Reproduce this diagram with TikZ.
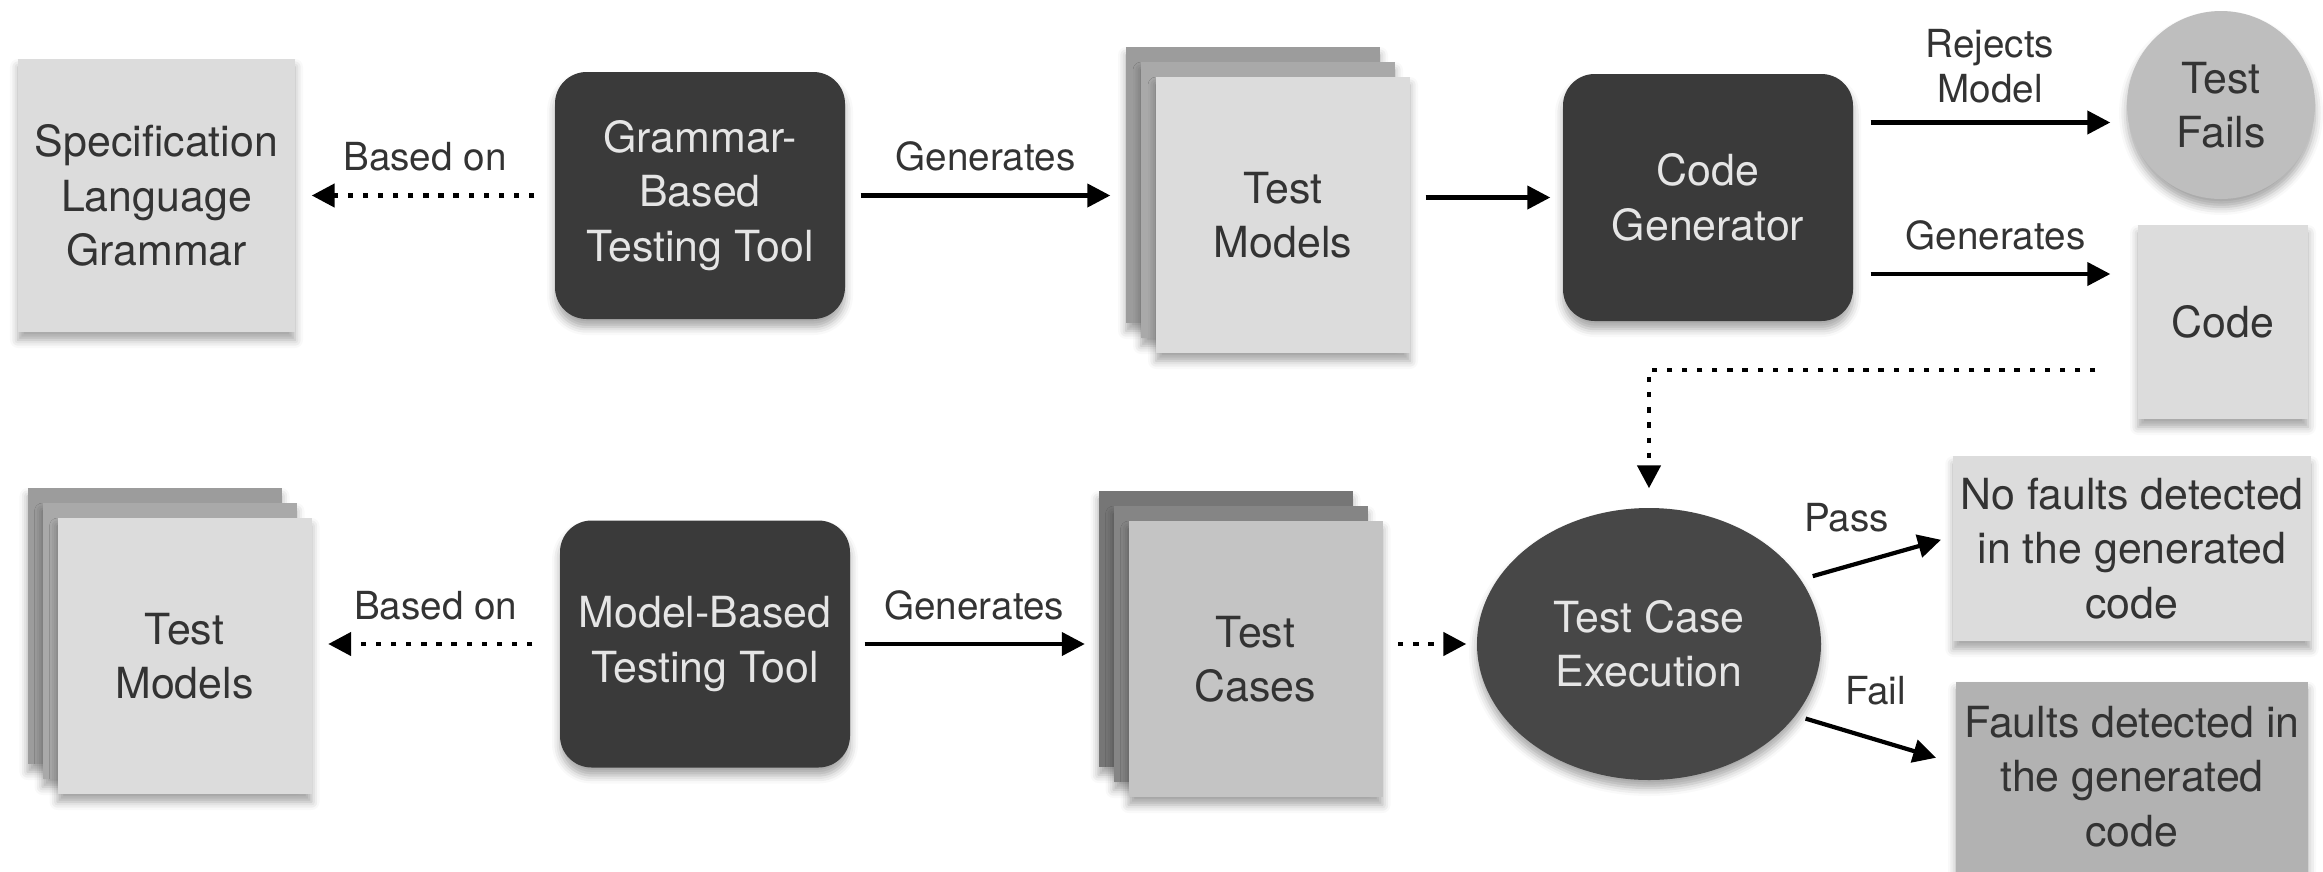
\documentclass[tikz,border=0pt]{standalone}
\usepackage{fontspec}
\setmainfont{TeX Gyre Heros}
\usepackage{tikz}
\usetikzlibrary{arrows.meta,positioning,shapes.geometric,shadows.blur}
\definecolor{boxlight}{HTML}{DCDCDC}
\definecolor{boxmid}{HTML}{C4C4C4}
\definecolor{boxdark}{HTML}{B2B2B2}
\definecolor{tooldark}{HTML}{3A3A3A}
\definecolor{execdark}{HTML}{474747}
\definecolor{sheetA}{HTML}{9C9C9C}
\definecolor{sheetB}{HTML}{A9A9A9}
\definecolor{sheetC}{HTML}{767676}
\definecolor{sheetD}{HTML}{858585}
\definecolor{failgray}{HTML}{BEBEBE}
\definecolor{txtdark}{HTML}{333333}

\begin{document}
\begin{tikzpicture}[
  >={Triangle[length=2.3mm,width=2.3mm]},
  shd/.style={blur shadow={shadow xshift=0pt, shadow yshift=-0.8mm, shadow blur radius=0.8mm, shadow opacity=35}},
  doc/.style={shd, fill=boxlight, text=txtdark, align=center, inner sep=2pt, font=\fontsize{12.2}{15.5}\selectfont},
  sheet/.style={doc, minimum width=2.54cm, minimum height=2.76cm},
  tool/.style={shd, fill=tooldark, text=white!90!black, rounded corners=9pt, align=center, minimum width=2.9cm, minimum height=2.47cm, font=\fontsize{12.2}{15.5}\selectfont},
  lbl/.style={font=\fontsize{11}{13}\selectfont, text=txtdark, align=center, inner sep=2pt},
  flow/.style={->, line width=1.2pt},
  dotflow/.style={->, line width=1.3pt, dash pattern=on 1.5pt off 2.8pt}]
\useasboundingbox (0,0) rectangle (23.23,-8.71);
% top row
\node[doc, minimum width=2.77cm, minimum height=2.73cm] (spec) at (1.565,-1.955) {Specification\\Language\\Grammar};
\node[tool] (gbt) at (7.0,-1.955) {Grammar-\\Based\\Testing Tool};
\node[sheet, fill=sheetA] (tmtopA) at (12.53,-1.85) {};
\node[sheet, fill=sheetB] (tmtopB) at (12.68,-2.0) {};
\node[sheet] (tmtop) at (12.83,-2.15) {Test\\Models};
\node[tool] (cg) at (17.08,-1.975) {Code\\Generator};
\node[shd, circle, fill=failgray, text=txtdark, minimum size=1.88cm, align=center, inner sep=0pt, font=\fontsize{12.2}{15.5}\selectfont] (tfail) at (22.21,-1.05) {Test\\Fails};
\node[doc, minimum width=1.7cm, minimum height=1.94cm] (code) at (22.23,-3.22) {Code};
% bottom row
\node[sheet, fill=sheetA] (tmbotA) at (1.545,-6.26) {};
\node[sheet, fill=sheetB] (tmbotB) at (1.695,-6.41) {};
\node[sheet] (tmbot) at (1.845,-6.56) {Test\\Models};
\node[tool] (mbt) at (7.05,-6.44) {Model-Based\\Testing Tool};
\node[sheet, fill=sheetC] (tcA) at (12.255,-6.29) {};
\node[sheet, fill=sheetD] (tcB) at (12.405,-6.44) {};
\node[sheet, fill=boxmid] (tc) at (12.555,-6.59) {Test\\Cases};
\node[shd, ellipse, fill=execdark, text=white!90!black, minimum width=3.44cm, minimum height=2.72cm, align=center, inner sep=0pt, font=\fontsize{12.2}{15.5}\selectfont] (tce) at (16.49,-6.44) {Test Case\\Execution};
\node[doc, minimum width=3.52cm, minimum height=1.85cm] (nof) at (21.32,-5.485) {No faults detected\\in the generated\\code};
\node[doc, fill=boxdark, minimum width=3.52cm, minimum height=1.9cm] (fd) at (21.32,-7.765) {Faults detected in\\the generated\\code};
% connectors
\draw[dotflow, shorten <=2mm, shorten >=1.6mm] (gbt.west) -- node[lbl, above, yshift=1.5mm]{Based on} (gbt.west -| spec.east);
\draw[flow, shorten <=1.5mm, shorten >=1.5mm] (gbt.east) -- node[lbl, above, yshift=1.5mm]{Generates} (gbt.east -| tmtopA.west);
\draw[flow, shorten <=1.5mm, shorten >=1.2mm] (cg.west -| tmtop.east) -- (cg.west);
\draw[flow, shorten <=1.7mm, shorten >=1.6mm] ([yshift=7.5mm]cg.east) -- node[lbl, above, yshift=1mm]{Rejects\\Model} ([yshift=7.5mm]cg.east -| tfail.west);
\draw[flow, shorten <=1.7mm, shorten >=2.7mm] ([yshift=-7.65mm]cg.east) -- node[lbl, above, yshift=1.5mm]{Generates} ([yshift=-7.65mm]cg.east -| code.west);
\draw[dotflow, shorten <=4.2mm, shorten >=1.9mm] ([yshift=-4.8mm]code.west) -| (tce.north);
\draw[dotflow, shorten <=2.7mm, shorten >=1.6mm] (mbt.west) -- node[lbl, above, yshift=1.5mm]{Based on} (mbt.west -| tmbot.east);
\draw[flow, shorten <=1.4mm, shorten >=1.3mm] (mbt.east) -- node[lbl, above, yshift=1.5mm]{Generates} (mbt.east -| tcA.west);
\draw[dotflow, shorten <=1.5mm, shorten >=1mm] (tce.west -| tc.east) -- (tce.west);
\draw[flow, shorten <=1.2mm, shorten >=1.2mm] (tce.23) -- node[lbl, above, pos=0.3, yshift=2.5mm]{Pass} ([yshift=1.2mm]nof.west);
\draw[flow, shorten <=1mm, shorten >=2mm] (tce.-26) -- node[lbl, above, pos=0.5, yshift=2.5mm]{Fail} ([yshift=1.3mm]fd.west);
\end{tikzpicture}
\end{document}
